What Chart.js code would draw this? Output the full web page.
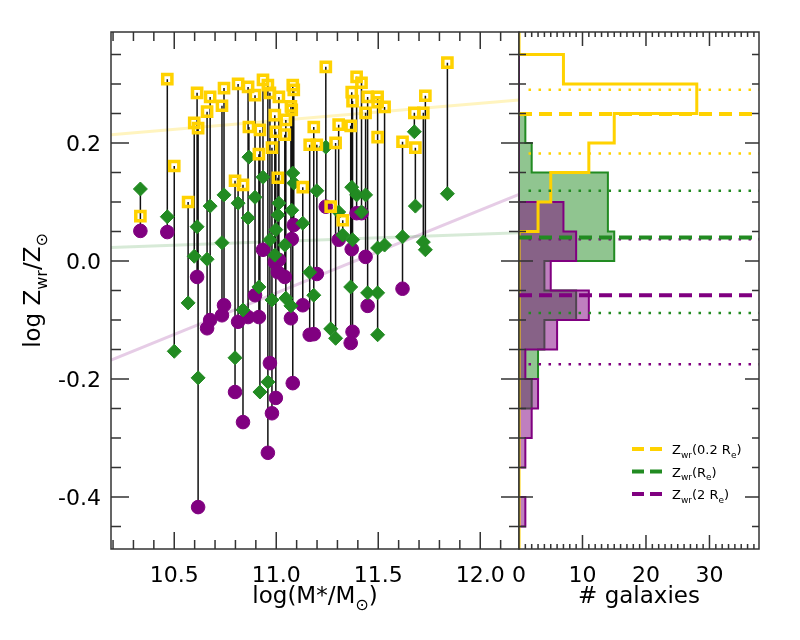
<!DOCTYPE html>
<html>
<head>
<meta charset="utf-8">
<script src="https://cdn.jsdelivr.net/npm/chart.js@4.4.1/dist/chart.umd.min.js"></script>
<style>
  html, body { margin: 0; padding: 0; background: #fff; }
  #wrap { position: relative; width: 800px; height: 640px; }
  #wrap canvas { position: absolute; left: 0; top: 0; }
</style>
</head>
<body>
<div id="wrap">
  <canvas id="left" width="800" height="640"></canvas>
  <canvas id="right" width="800" height="640"></canvas>
</div>
<script>
'use strict';

// ===== Datos por galaxia =====
var logMass = [10.334, 10.466, 10.500, 10.568, 10.598, 10.617, 10.612, 10.676, 10.661, 10.744,
  10.734, 10.798, 10.837, 10.813, 10.862, 10.896, 10.935, 10.915, 10.866, 10.959,
  10.920, 10.979, 10.969, 11.013, 11.042, 11.081, 11.086, 11.076, 10.998, 10.993,
  11.130, 11.164, 11.184, 11.199, 11.243, 11.267, 11.291, 11.306, 11.326, 11.365,
  11.370, 11.374, 11.394, 11.418, 11.438, 11.448, 11.497, 11.497, 11.497, 11.531,
  11.619, 11.677, 11.682, 11.721, 11.731, 11.839, 11.008, 11.047, 11.072];
// Z_wr(0.2 Re)
var zCentral = [0.076, 0.308, 0.161, 0.100, 0.234, 0.225, 0.285, 0.278, 0.253, 0.293,
  0.263, 0.136, 0.129, 0.300, 0.295, 0.281, 0.307, 0.181, 0.227, 0.298,
  0.222, 0.192, 0.285, 0.278, 0.214, 0.298, 0.290, 0.256, 0.219, 0.247,
  0.125, 0.197, 0.227, 0.197, 0.329, 0.092, 0.200, 0.231, 0.069, 0.229,
  0.286, 0.271, 0.312, 0.302, 0.251, 0.278, 0.278, 0.210, 0.269, 0.261,
  0.202, 0.251, 0.192, 0.251, 0.280, 0.336, 0.141, 0.239, 0.262];
// Z_wr(Re)
var zRe = [0.122, 0.075, -0.153, -0.071, 0.008, -0.198, 0.058, 0.093, 0.003, 0.112,
  0.031, -0.164, -0.083, 0.098, 0.073, 0.108, 0.142, -0.044, 0.176, -0.205,
  -0.222, -0.066, 0.036, 0.098, 0.027, 0.149, 0.132, 0.086, 0.053, 0.010,
  0.064, -0.019, -0.058, 0.119, 0.193, -0.115, -0.131, 0.083, 0.044, -0.044,
  0.125, 0.036, 0.112, 0.083, 0.112, -0.054, 0.022, -0.054, -0.125, 0.027,
  0.041, 0.219, 0.093, 0.032, 0.019, 0.114, 0.078, -0.063, -0.076];
// Z_wr(2 Re), null = sin dato
var z2Re = [0.051, 0.049, null, null, null, -0.417, -0.027, -0.100, -0.114, -0.075,
  -0.092, -0.222, -0.273, -0.103, -0.095, -0.058, 0.019, -0.095, null, -0.325,
  null, -0.258, -0.173, 0.002, -0.027, -0.207, 0.061, 0.037, -0.232, -0.002,
  -0.075, -0.125, -0.124, -0.022, 0.092, null, null, 0.036, null, -0.139,
  0.020, -0.120, 0.081, 0.081, 0.007, -0.076, null, null, null, null,
  -0.047, null, null, null, null, null, -0.019, null, -0.097];

// Ajustes lineales (extremos)
var fitMass = [10.19, 12.19];
var fitCentral = [0.214, 0.273];
var fitRe = [0.023, 0.048];
var fit2Re = [-0.168, 0.113];

// ===== Histogramas =====
var binEdges = [-0.45, -0.40, -0.35, -0.30, -0.25, -0.20, -0.15, -0.10, -0.05, 0.00,
  0.05, 0.10, 0.15, 0.20, 0.25, 0.30, 0.35];
var countCentral = [0, 0, 0, 0, 0, 0, 0, 0, 0, 0, 3, 5, 11, 15, 28, 7];
var countRe = [0, 0, 0, 0, 2, 3, 4, 9, 4, 15, 14, 14, 2, 1, 0, 0];
var count2Re = [1, 0, 1, 2, 3, 1, 6, 11, 5, 9, 7, 0, 0, 0, 0, 0];

// Medianas (discontinua) y percentiles (punteada)
var medCentral = 0.249, medRe = 0.040, med2Re = -0.058;
var pctCentral = [0.182, 0.290];
var pctRe = [-0.088, 0.119];
var pct2Re = [-0.175, 0.037];

// ===== Ejes =====
var massRange = [10.19, 12.19];
var zRange = [-0.488, 0.388];
var countRange = [0, 37.8];
var xTicksMass = [10.5, 11.0, 11.5, 12.0];
var yTicksZ = [-0.4, -0.2, 0.0, 0.2];
var xTicksCount = [0, 10, 20, 30];

var FONT = '"DejaVu Sans", sans-serif';
var GOLD = '#FFD200', GREEN = '#228B22', PURPLE = '#800080';

function seq(from, to, step) {
  var out = [];
  for (var v = from; v <= to + 1e-9; v += step) out.push(Math.round(v * 1000) / 1000);
  return out;
}

// texto con subindices: parts = [[texto, esSub], ...]
function drawRich(ctx, parts, x, y, size, align) {
  var widths = [], total = 0, i;
  for (i = 0; i < parts.length; i++) {
    ctx.font = (parts[i][1] ? Math.round(size * 0.68) : size) + 'px ' + FONT;
    widths.push(ctx.measureText(parts[i][0]).width);
    total += widths[i];
  }
  var cx = x;
  if (align === 'center') cx = x - total / 2;
  if (align === 'right') cx = x - total;
  ctx.textAlign = 'left';
  ctx.textBaseline = 'alphabetic';
  for (i = 0; i < parts.length; i++) {
    ctx.font = (parts[i][1] ? Math.round(size * 0.68) : size) + 'px ' + FONT;
    ctx.fillText(parts[i][0], cx, y + (parts[i][1] ? size * 0.3 : 0));
    cx += widths[i];
  }
}

// marco, marcas hacia dentro y etiquetas
var framePlugin = {
  id: 'marco',
  afterDatasetsDraw: function (chart, args, o) {
    var ctx = chart.ctx, a = chart.chartArea;
    var xs = chart.scales.x, ys = chart.scales.y;
    ctx.save();
    ctx.strokeStyle = '#333';
    ctx.lineWidth = 1.5;
    ctx.beginPath();
    function xTick(v, len) {
      var p = xs.getPixelForValue(v);
      if (p <= a.left + 1 || p >= a.right - 1) return;
      ctx.moveTo(p, a.bottom); ctx.lineTo(p, a.bottom - len);
      ctx.moveTo(p, a.top); ctx.lineTo(p, a.top + len);
    }
    function yTick(v, len) {
      var p = ys.getPixelForValue(v);
      if (p <= a.top + 1 || p >= a.bottom - 1) return;
      ctx.moveTo(a.left, p); ctx.lineTo(a.left + len, p);
      ctx.moveTo(a.right, p); ctx.lineTo(a.right - len, p);
    }
    o.xMinor.forEach(function (v) { xTick(v, o.xLen[1]); });
    o.xMajor.forEach(function (v) { xTick(v, o.xLen[0]); });
    o.yMinor.forEach(function (v) { yTick(v, o.yLen[1]); });
    o.yMajor.forEach(function (v) { yTick(v, o.yLen[0]); });
    ctx.stroke();
    ctx.strokeRect(a.left, a.top, a.right - a.left, a.bottom - a.top);

    ctx.fillStyle = '#000';
    ctx.font = '22px ' + FONT;
    ctx.textBaseline = 'alphabetic';
    ctx.textAlign = 'center';
    o.xMajor.forEach(function (v) {
      ctx.fillText(o.xFmt(v), xs.getPixelForValue(v), a.bottom + 33);
    });
    if (o.yFmt) {
      ctx.textAlign = 'right';
      o.yMajor.forEach(function (v) {
        ctx.fillText(o.yFmt(v), a.left - 10, ys.getPixelForValue(v) + 8);
      });
    }
    ctx.restore();
  }
};

var leftTexts = {
  id: 'textosIzq',
  afterDraw: function (chart) {
    var ctx = chart.ctx, a = chart.chartArea;
    ctx.save();
    ctx.fillStyle = '#000';
    drawRich(ctx, [['log(M*/M', 0], ['\u2299', 1], [')', 0]], (a.left + a.right) / 2, 603, 23, 'center');
    ctx.translate(40, (a.top + a.bottom) / 2);
    ctx.rotate(-Math.PI / 2);
    drawRich(ctx, [['log Z', 0], ['wr', 1], ['/Z', 0], ['\u2299', 1]], 0, 0, 23, 'center');
    ctx.restore();
  }
};

var legendRows = [
  { color: GOLD, parts: [['Z', 0], ['wr', 1], ['(0.2 R', 0], ['e', 1], [')', 0]] },
  { color: GREEN, parts: [['Z', 0], ['wr', 1], ['(R', 0], ['e', 1], [')', 0]] },
  { color: PURPLE, parts: [['Z', 0], ['wr', 1], ['(2 R', 0], ['e', 1], [')', 0]] }
];

var rightTexts = {
  id: 'textosDer',
  afterDraw: function (chart) {
    var ctx = chart.ctx, a = chart.chartArea;
    ctx.save();
    ctx.fillStyle = '#000';
    drawRich(ctx, [['# galaxies', 0]], (a.left + a.right) / 2, 603, 23, 'center');
    for (var i = 0; i < legendRows.length; i++) {
      var y = 449 + i * 22.5;
      ctx.strokeStyle = legendRows[i].color;
      ctx.lineWidth = 4;
      ctx.setLineDash([12, 6]);
      ctx.beginPath();
      ctx.moveTo(632, y); ctx.lineTo(662, y);
      ctx.stroke();
      ctx.setLineDash([]);
      ctx.fillStyle = '#000';
      drawRich(ctx, legendRows[i].parts, 672, y + 5, 13, 'left');
    }
    ctx.restore();
  }
};

// ===== Panel izquierdo =====
function points(ys) {
  var out = [];
  for (var i = 0; i < logMass.length; i++) {
    if (ys[i] !== null) out.push({ x: logMass[i], y: ys[i] });
  }
  return out;
}

var connectors = [];
for (var i = 0; i < logMass.length; i++) {
  var vals = [zCentral[i], zRe[i], z2Re[i]].filter(function (v) { return v !== null; });
  connectors.push({ x: logMass[i], y: Math.max.apply(null, vals) });
  connectors.push({ x: logMass[i], y: Math.min.apply(null, vals) });
  connectors.push({ x: logMass[i], y: null });
}

function fitLine(ys) {
  return [{ x: fitMass[0], y: ys[0] }, { x: fitMass[1], y: ys[1] }];
}

new Chart(document.getElementById('left'), {
  type: 'scatter',
  data: {
    datasets: [
      { data: points(zCentral), pointStyle: 'rect', pointRadius: 6.5, borderWidth: 3.5,
        borderColor: GOLD, backgroundColor: 'rgba(0,0,0,0)', order: 1 },
      { data: points(zRe), pointStyle: 'rectRot', pointRadius: 7, borderWidth: 1,
        borderColor: GREEN, backgroundColor: GREEN, order: 2 },
      { data: points(z2Re), pointStyle: 'circle', pointRadius: 6.8, borderWidth: 1,
        borderColor: PURPLE, backgroundColor: PURPLE, order: 3 },
      { type: 'line', data: connectors, borderColor: '#111', borderWidth: 1.5,
        pointRadius: 0, spanGaps: false, fill: false, order: 4 },
      { type: 'line', data: fitLine(fitCentral), borderColor: 'rgba(255,210,0,0.25)',
        borderWidth: 3, pointRadius: 0, fill: false, order: 5 },
      { type: 'line', data: fitLine(fitRe), borderColor: 'rgba(34,139,34,0.18)',
        borderWidth: 3, pointRadius: 0, fill: false, order: 6 },
      { type: 'line', data: fitLine(fit2Re), borderColor: 'rgba(128,0,128,0.2)',
        borderWidth: 3, pointRadius: 0, fill: false, order: 7 }
    ]
  },
  options: {
    responsive: false,
    animation: false,
    events: [],
    layout: { padding: { left: 111, right: 281, top: 32, bottom: 91 } },
    scales: {
      x: { type: 'linear', display: false, min: massRange[0], max: massRange[1] },
      y: { type: 'linear', display: false, min: zRange[0], max: zRange[1] }
    },
    plugins: {
      legend: { display: false },
      tooltip: { enabled: false },
      marco: {
        xMajor: xTicksMass, xMinor: seq(10.2, 12.1, 0.1), xLen: [17, 9],
        yMajor: yTicksZ, yMinor: seq(-0.45, 0.35, 0.05), yLen: [18, 10],
        xFmt: function (v) { return v.toFixed(1); },
        yFmt: function (v) { return v.toFixed(1); }
      }
    }
  },
  plugins: [framePlugin, leftTexts]
});

// ===== Panel derecho =====
function stepOutline(counts) {
  var pts = [{ x: 0, y: binEdges[binEdges.length - 1] }];
  for (var i = counts.length - 1; i >= 0; i--) {
    pts.push({ x: counts[i], y: binEdges[i + 1] });
    pts.push({ x: counts[i], y: binEdges[i] });
  }
  pts.push({ x: 0, y: binEdges[0] });
  return pts;
}

function hLine(y, x0) {
  return [{ x: x0, y: y }, { x: countRange[1] + 1, y: y }];
}

var yellowStep = [{ x: 0, y: zRange[1] }].concat(stepOutline(countCentral), [{ x: 0, y: zRange[0] }]);

function dashed(y, color, order) {
  return { type: 'line', data: hLine(y, 0), borderColor: color, borderWidth: 4,
    borderDash: [13, 7], pointRadius: 0, fill: false, order: order };
}
function dotted(y, color, order) {
  return { type: 'line', data: hLine(y, 1.5), borderColor: color, borderWidth: 2.5,
    borderDash: [2.5, 7.5], pointRadius: 0, fill: false, order: order };
}

new Chart(document.getElementById('right'), {
  type: 'scatter',
  data: {
    datasets: [
      dashed(medCentral, GOLD, 1),
      dashed(medRe, GREEN, 2),
      dashed(med2Re, PURPLE, 3),
      dotted(pctCentral[0], GOLD, 4),
      dotted(pctCentral[1], GOLD, 4),
      dotted(pctRe[0], GREEN, 5),
      dotted(pctRe[1], GREEN, 5),
      dotted(pct2Re[0], PURPLE, 6),
      dotted(pct2Re[1], PURPLE, 6),
      { type: 'line', data: yellowStep, borderColor: GOLD, borderWidth: 3,
        pointRadius: 0, fill: false, order: 10 },
      { type: 'line', data: stepOutline(count2Re), borderColor: PURPLE, borderWidth: 2,
        backgroundColor: 'rgba(128,0,128,0.5)', pointRadius: 0, fill: 'shape', order: 11 },
      { type: 'line', data: stepOutline(countRe), borderColor: GREEN, borderWidth: 2,
        backgroundColor: 'rgba(34,139,34,0.5)', pointRadius: 0, fill: 'shape', order: 12 }
    ]
  },
  options: {
    responsive: false,
    animation: false,
    events: [],
    layout: { padding: { left: 519, right: 41, top: 32, bottom: 91 } },
    scales: {
      x: { type: 'linear', display: false, min: countRange[0], max: countRange[1] },
      y: { type: 'linear', display: false, min: zRange[0], max: zRange[1] }
    },
    plugins: {
      legend: { display: false },
      tooltip: { enabled: false },
      marco: {
        xMajor: xTicksCount, xMinor: seq(1, 37, 1), xLen: [14, 5],
        yMajor: yTicksZ, yMinor: seq(-0.45, 0.35, 0.05), yLen: [14, 7],
        xFmt: function (v) { return String(v); }
      }
    }
  },
  plugins: [framePlugin, rightTexts]
});
</script>
</body>
</html>
